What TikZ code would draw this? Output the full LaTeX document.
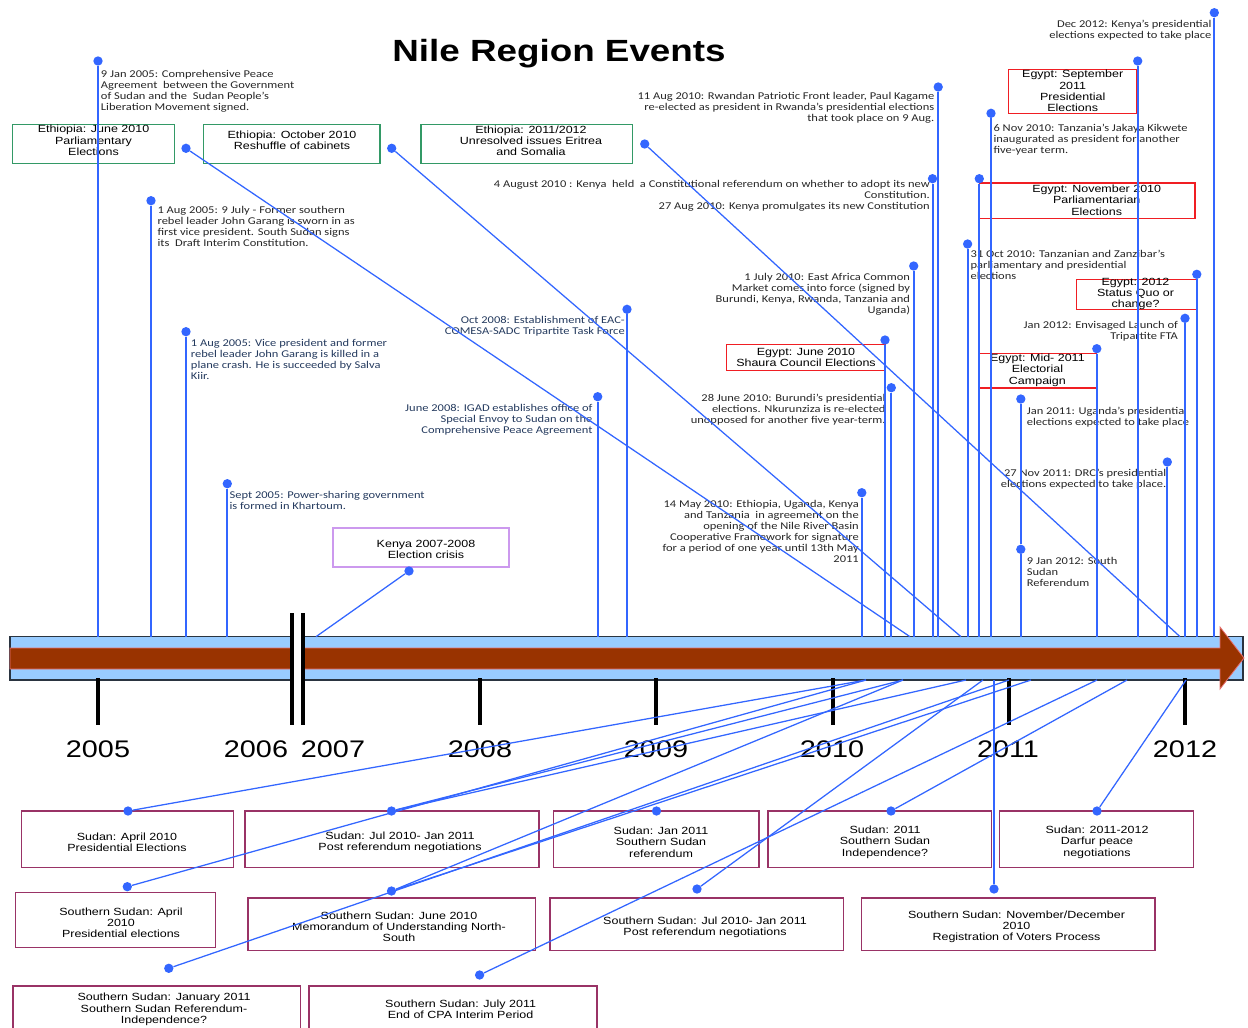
\documentclass[tikz,border=0pt]{standalone}
\usepackage{fontspec}
\setmainfont{Liberation Sans}
\newfontfamily\evfam[FakeStretch=1.2]{Carlito}
\newfontfamily\bxfam[FakeStretch=1.2]{Liberation Sans}
\usetikzlibrary{fit}
\definecolor{lineblue}{HTML}{3366FF}
\definecolor{barblue}{HTML}{99CCFF}
\definecolor{bardark}{HTML}{2A3440}
\definecolor{brownfill}{HTML}{993300}
\definecolor{brownedge}{HTML}{E87070}
\definecolor{gboxc}{HTML}{339966}
\definecolor{rboxc}{HTML}{F01E23}
\definecolor{mboxc}{HTML}{993366}
\definecolor{kboxc}{HTML}{CC99EE}
\definecolor{evgray}{HTML}{262626}
\definecolor{evnavy}{HTML}{243A5E}
\newcommand\evfont{\evfam\fontsize{7.8pt}{8.25pt}\selectfont}
\newcommand\bxfont{\bxfam\fontsize{7.8pt}{8.5pt}\selectfont}
\tikzset{
  dot/.style={circle, fill=lineblue, inner sep=0pt, minimum size=7pt},
  vline/.style={draw=lineblue, line width=1.5pt},
  dline/.style={draw=lineblue, line width=0.95pt},
  evl/.style={inner sep=0pt, font=\evfont, text=evgray, align=left, anchor=north west},
  evr/.style={inner sep=0pt, font=\evfont, text=evgray, align=right, anchor=north east},
  gbox/.style={draw=gboxc, line width=1pt, inner sep=0pt},
  rbox/.style={draw=rboxc, line width=1pt, inner sep=0pt},
  mbox/.style={draw=mboxc, line width=1pt, inner sep=0pt},
  kbox/.style={draw=kboxc, line width=1pt, inner sep=0pt},
  btxt/.style={inner sep=0pt, font=\bxfont, align=center},
  yrlab/.style={inner sep=0pt, font=\bxfam\fontsize{18pt}{20pt}\selectfont},
  tickm/.style={line width=3pt, black},
}
\begin{document}
\begin{tikzpicture}[x=0.75pt,y=-0.75pt]
\useasboundingbox (0,0) rectangle (1248,1027);

% title
\node[font=\bxfam\bfseries\fontsize{23pt}{26pt}\selectfont, inner sep=0pt] (title) at (559,54) {Nile Region Events};

% ---------- timeline bar ----------
\draw[fill=barblue, draw=bardark, line width=0.9pt] (10,636.7) rectangle (1243,680);
\draw[fill=brownfill, draw=brownedge, line width=0.6pt] (10,648)--(1220,648)--(1220,627)--(1244,658)--(1220,689)--(1220,669)--(10,669)--cycle;
\fill[white] (292,613) rectangle (303,725);
\draw[line width=3pt] (292,613)--(292,725);
\draw[line width=3pt] (303,613)--(303,725);
\foreach \tx in {98,480,656,833,1009,1185} \draw[tickm] (\tx,678)--(\tx,725);

% years
\node[yrlab] (y05) at (98,749) {2005};
\node[yrlab] (y06) at (256,749) {2006};
\node[yrlab] (y07) at (333,749) {2007};
\node[yrlab] (y08) at (480,749) {2008};
\node[yrlab] (y09) at (656,749) {2009};
\node[yrlab] (y10) at (832,749) {2010};
\node[yrlab] (y11) at (1008,749) {2011};
\node[yrlab] (y12) at (1185,749) {2012};

% ---------- top boxes ----------
\node[gbox, fit={(12.7,124.3) (174.3,163.3)}] (g1) {};
\node[btxt] (g1t) at (93.5,140.5) {Ethiopia: June 2010\\Parliamentary\\Elections};
\node[gbox, fit={(203.7,124.3) (380,163.3)}] (g2) {};
\node[btxt] (g2t) at (292,140.2) {Ethiopia: October 2010\\Reshuffle of cabinets};
\node[gbox, fit={(421,124.3) (632.7,163.3)}] (g3) {};
\node[btxt] (g3t) at (531,140.7) {Ethiopia: 2011/2012\\Unresolved issues Eritrea\\and Somalia};

\node[rbox, fit={(1008.7,69.7) (1136.7,113.3)}] (r1) {};
\node[btxt] (r1t) at (1072.7,91) {Egypt: September\\2011\\Presidential\\Elections};
\node[rbox, fit={(979.3,183) (1195,218.3)}] (r2) {};
\node[btxt] (r2t) at (1096.7,200) {Egypt: November 2010\\Parliamentarian\\Elections};
\node[rbox, fit={(1076.2,279.3) (1196.8,309.3)}] (r3) {};
\node[btxt] (r3t) at (1135.5,294) {Egypt: 2012\\Status Quo or\\change?};
\node[rbox, fit={(726.5,344.7) (885,370.7)}] (r4) {};
\node[btxt] (r4t) at (806,357.5) {Egypt: June 2010\\Shaura Council Elections};
\node[rbox, fit={(979.3,353.3) (1096.8,388)}] (r5) {};
\node[btxt] (r5t) at (1037.4,370.2) {Egypt: Mid- 2011\\Electorial\\Campaign};

\node[kbox, fit={(333,528) (509,567)}] (kb) {};
\node[btxt] (kbt) at (426,549.5) {Kenya 2007-2008\\Election crisis};

% ---------- bottom boxes ----------
\node[mbox, fit={(21.7,811) (233.3,867.7)}] (b1) {};
\node[btxt] (b1t) at (127,842.5) {Sudan: April 2010\\Presidential Elections};
\node[mbox, fit={(245,811) (539,867.7)}] (b2) {};
\node[btxt] (b2t) at (400,842) {Sudan: Jul 2010- Jan 2011\\Post referendum negotiations};
\node[mbox, fit={(553.5,811) (759,867.7)}] (b3) {};
\node[btxt] (b3t) at (661,842) {Sudan: Jan 2011\\Southern Sudan\\referendum};
\node[mbox, fit={(768,811) (991.5,867.7)}] (b4) {};
\node[btxt] (b4t) at (885,842) {Sudan: 2011\\Southern Sudan\\Independence?};
\node[mbox, fit={(999.6,811) (1193.7,867.7)}] (b5) {};
\node[btxt] (b5t) at (1097,842) {Sudan: 2011-2012\\Darfur peace\\negotiations};

\node[mbox, fit={(15.8,892.7) (215.5,947.3)}] (c1) {};
\node[btxt] (c1t) at (121,922.7) {Southern Sudan: April\\2010\\Presidential elections};
\node[mbox, fit={(248,898) (535.8,950.7)}] (c2) {};
\node[btxt] (c2t) at (399,926.7) {Southern Sudan: June 2010\\Memorandum of Understanding North-\\South};
\node[mbox, fit={(550,898) (843.8,950.7)}] (c3) {};
\node[btxt] (c3t) at (705,927.4) {Southern Sudan: Jul 2010- Jan 2011\\Post referendum negotiations};
\node[mbox, fit={(861.5,898) (1155,950.7)}] (c4) {};
\node[btxt] (c4t) at (1016.5,926.7) {Southern Sudan: November/December\\2010\\Registration of Voters Process};

\node[mbox, fit={(13,986) (300.5,1045)}] (d1) {};
\node[btxt] (d1t) at (164,1009.3) {Southern Sudan: January 2011\\Southern Sudan Referendum-\\Independence?};
\node[mbox, fit={(309,986) (597,1045)}] (d2) {};
\node[btxt] (d2t) at (460.6,1009.2) {Southern Sudan: July 2011\\End of CPA Interim Period};

% ---------- event texts ----------
\node[evl] (e1t) at (100.7,69.7) {9 Jan 2005: Comprehensive Peace\\Agreement\ \ between the Government\\of Sudan and the\ \ Sudan People’s\\Liberation Movement signed.};
\node[evl] (e2t) at (157.3,206) {1 Aug 2005: 9 July - Former southern\\rebel leader John Garang is sworn in as\\first vice president. South Sudan signs\\its\ \ Draft Interim Constitution.};
\node[evl, text=evnavy] (e3t) at (190.7,339.4) {1 Aug 2005: Vice president and former\\rebel leader John Garang is killed in a\\plane crash. He is succeeded by Salva\\Kiir.};
\node[evl, text=evnavy] (e4t) at (229.3,490.7) {Sept 2005: Power-sharing government\\is formed in Khartoum.};
\node[evr, text=evnavy] (e5t) at (592.7,404) {June 2008: IGAD establishes office of\\Special Envoy to Sudan on the\\Comprehensive Peace Agreement};
\node[evr, text=evnavy] (e6t) at (625,315.7) {Oct 2008: Establishment of EAC-\\COMESA-SADC Tripartite Task Force};
\node[evr] (e7t) at (859,500) {14 May 2010: Ethiopia, Uganda, Kenya\\and Tanzania\ \ in agreement on the\\opening of the Nile River Basin\\Cooperative Framework for signature\\for a period of one year until 13th May\\2011};
\node[evr] (e9t) at (885.8,393.4) {28 June 2010: Burundi’s presidential\\elections. Nkurunziza is re-elected\\unopposed for another five year-term.};
\node[evr] (e10t) at (910.3,273.4) {1 July 2010: East Africa Common\\Market comes into force (signed by\\Burundi, Kenya, Rwanda, Tanzania and\\Uganda)};
\node[evr] (e11t) at (930,179.7) {4 August 2010 : Kenya\ \ held\ \ a Constitutional referendum on whether to adopt its new\\Constitution.\\27 Aug 2010: Kenya promulgates its new Constitution};
\node[evr] (e12t) at (934.5,92.4) {11 Aug 2010: Rwandan Patriotic Front leader, Paul Kagame\\re-elected as president in Rwanda’s presidential elections\\that took place on 9 Aug.};
\node[evl] (e13t) at (970.4,249.7) {31 Oct 2010: Tanzanian and Zanzibar’s\\parliamentary and presidential\\elections};
\node[evl] (e15t) at (993.3,123.7) {6 Nov 2010: Tanzania’s Jakaya Kikwete\\inaugurated as president for another\\five-year term.};
\node[evl] (e16t) at (1026.6,407) {Jan 2011: Uganda’s presidential\\elections expected to take place};
\node[evl] (e17t) at (1026.6,557) {9 Jan 2012: South\\Sudan\\Referendum};
\node[evr] (e20t) at (1166.5,468.7) {27 Nov 2011: DRC’s presidential\\elections expected to take place.};
\node[evr] (e21t) at (1178.2,320.7) {Jan 2012: Envisaged Launch of\\Tripartite FTA};
\node[evr] (e23t) at (1211.7,19.7) {Dec 2012: Kenya’s presidential\\elections expected to take place};

% ---------- dots ----------
\node[dot] (e1) at (98,61) {};
\node[dot] (e2) at (151,200.7) {};
\node[dot] (e3) at (186,331.7) {};
\node[dot] (e4) at (227.3,483.7) {};
\node[dot] (e5) at (597.7,396.7) {};
\node[dot] (e6) at (627,309.3) {};
\node[dot] (e7) at (861.8,492.7) {};
\node[dot] (e8) at (885,340) {};
\node[dot] (e9) at (891.3,387.7) {};
\node[dot] (e10) at (913.7,266) {};
\node[dot] (e11) at (932.5,178.7) {};
\node[dot] (e12) at (938.2,87) {};
\node[dot] (e13) at (967.6,244) {};
\node[dot] (e14) at (979.3,178.7) {};
\node[dot] (e15) at (991,113.3) {};
\node[dot] (e16) at (1020.8,399) {};
\node[dot] (e17) at (1020.8,549.3) {};
\node[dot] (e18) at (1096.8,348.7) {};
\node[dot] (e19) at (1137.7,61) {};
\node[dot] (e20) at (1167.3,462) {};
\node[dot] (e21) at (1185,318.3) {};
\node[dot] (e22) at (1196.8,274.3) {};
\node[dot] (e23) at (1214.3,12.7) {};
\node[dot] (g1d) at (186,148.3) {};
\node[dot] (g2d) at (391.7,148.3) {};
\node[dot] (g3d) at (644.7,144) {};
\node[dot] (kd) at (409,571) {};
\node[dot] (b1d) at (128,811) {};
\node[dot] (b2d) at (391.5,811) {};
\node[dot] (b3d) at (656.5,811) {};
\node[dot] (b4d) at (891,811) {};
\node[dot] (b5d) at (1097,811) {};
\node[dot] (c1d) at (127.3,886.7) {};
\node[dot] (c2d) at (391.5,891) {};
\node[dot] (c3d) at (697,889) {};
\node[dot] (c4d) at (994,889) {};
\node[dot] (d1d) at (168.8,968.3) {};
\node[dot] (d2d) at (479.6,975) {};

% ---------- bar anchor coordinates ----------
\foreach \n/\xx in {1/98,2/151,3/186,4/227.3,5/597.7,6/627,7/861.8,8/885,9/891.3,10/913.7,11/932.5,12/938.2,13/967.6,14/979.3,15/991,17/1020.8,18/1096.8,19/1137.7,20/1167.3,21/1185,22/1196.8,23/1214.3}
  \coordinate (t\n) at (\xx,636.7);
\coordinate (tg1) at (910,636.7);
\coordinate (tg2) at (961,636.7);
\coordinate (tg3) at (1180,636.7);
\coordinate (tk) at (316,636.7);
\coordinate (u866) at (866,680);
\coordinate (u903) at (903,680);
\coordinate (u966) at (966,680);
\coordinate (u983) at (983,680);
\coordinate (u994) at (994,680);
\coordinate (u1009) at (1009,680);
\coordinate (u1031) at (1031,680);
\coordinate (u1097) at (1097,680);
\coordinate (u1127) at (1127,680);
\coordinate (u1186) at (1186,680);

% ---------- connectors ----------
\foreach \n in {1,2,3,4,5,6,7,8,9,10,11,12,13,14,15,17,18,19,20,21,22,23}
  \draw[vline] (e\n) -- (t\n);
\draw[vline] (e16) -- (e17);
\draw[dline] (g1d) -- (tg1);
\draw[dline] (g2d) -- (tg2);
\draw[dline] (g3d) -- (tg3);
\draw[dline] (kd) -- (tk);

\draw[dline] (b1d) -- (u866);
\draw[dline] (c1d) -- (u866);
\draw[dline] (b2d) -- (u903);
\draw[dline] (b2d) -- (u966);
\draw[dline] (c2d) -- (u903);
\draw[dline] (c2d) -- (u1031);
\draw[dline] (d1d) -- (u1009);
\draw[dline] (c3d) -- (u983);
\draw[vline] (c4d) -- (u994);
\draw[dline] (d2d) -- (u1097);
\draw[dline] (b4d) -- (u1127);
\draw[dline] (b5d) -- (u1186);
\end{tikzpicture}
\end{document}
